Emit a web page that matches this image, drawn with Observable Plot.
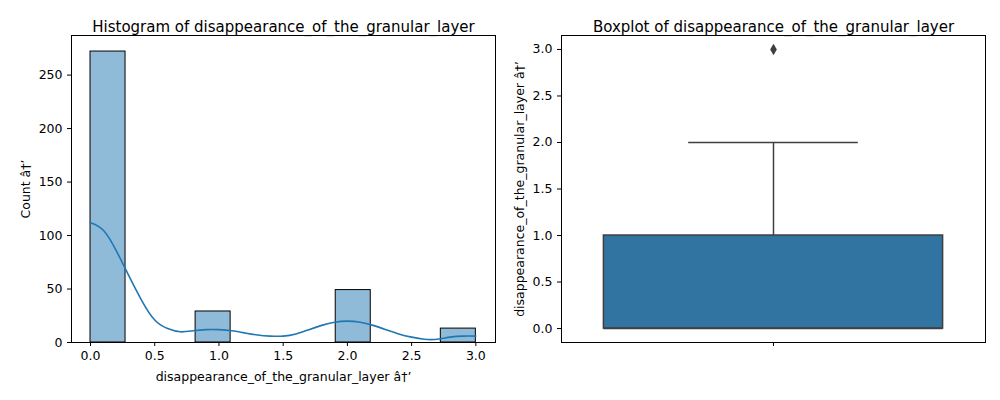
<!DOCTYPE html>
<html><head>
<script src="https://cdn.jsdelivr.net/npm/d3@7"></script>
<script src="https://cdn.jsdelivr.net/npm/@observablehq/plot@0.6"></script>
<style>body{margin:0;background:#fff}#wrap{display:flex;width:1000px}</style>
</head><body><div id="wrap"></div>
<script>
const varName = 'disappearance_of_the_granular_layer'
const binEdges = [0, 0.2727, 0.5455, 0.8182, 1.0909, 1.3636, 1.6364, 1.9091, 2.1818, 2.4545, 2.7273, 3.0]
const counts = [272, 0, 0, 29, 0, 0, 0, 49, 0, 0, 13]
const kdeX = [0,0.1,0.2,0.3,0.4,0.5,0.6,0.7,0.8,0.9,1.0,1.1,1.2,1.3,1.4,1.5,1.6,1.7,1.8,1.9,2.0,2.1,2.2,2.3,2.4,2.5,2.6,2.7,2.8,2.9,3.0]
const kdeY = [112,105,86,62,39,21,13,10,11,12,12,11,9,7,6,6,8,12,16,19,20,19,16,12,8,5,3,3,5,6,6]
const boxStats = {min: 0, q1: 0, median: 0, q3: 1, max: 2}
const outliers = [3]

const bins = counts.map((c, i) => ({x1: binEdges[i], x2: binEdges[i+1], y: c})).filter(d => d.y > 0)
const kde = kdeX.map((x, i) => ({x, y: kdeY[i]}))
const style = {fontFamily: 'DejaVu Sans', fontSize: '12.5px', color: 'black', background: 'white'}

let hist = Plot.plot({
  width: 500, height: 400,
  marginLeft: 71, marginRight: 5, marginTop: 35, marginBottom: 58,
  style,
  x: {domain: [-0.148, 3.153], ticks: [0,0.5,1,1.5,2,2.5,3], tickFormat: d3.format('.1f'), label: varName, labelAnchor: 'center', labelOffset: 38, tickSize: 4},
  y: {domain: [0, 287], ticks: [0,50,100,150,200,250], label: 'Count', labelAnchor: 'center', labelOffset: 50, tickSize: 4},
  marks: [
    Plot.rectY(bins, {x1: 'x1', x2: 'x2', y: 'y', fill: '#8fbbd9', stroke: 'black', strokeWidth: 1}),
    Plot.line(kde, {x: 'x', y: 'y', stroke: '#1f77b4', strokeWidth: 1.6, curve: 'natural'}),
    Plot.frame({stroke: 'black'}),
    Plot.text(['Histogram of ' + varName], {frameAnchor: 'top', dy: -14, fontSize: 15, text: d => d})
  ]
})

let box = Plot.plot({
  width: 500, height: 400,
  marginLeft: 61, marginRight: 15, marginTop: 35, marginBottom: 58,
  style,
  x: {domain: [-0.5, 0.5], ticks: [0], tickFormat: () => '', label: null, tickSize: 4},
  y: {domain: [-0.15, 3.15], ticks: [0,0.5,1,1.5,2,2.5,3], tickFormat: d3.format('.1f'), label: varName, labelAnchor: 'center', labelOffset: 46, tickSize: 4},
  marks: [
    Plot.ruleX([boxStats], {x: 0, y1: 'q3', y2: 'max', stroke: '#3f3f3f', strokeWidth: 1.5}),
    Plot.ruleY([boxStats], {y: 'max', x1: -0.2, x2: 0.2, stroke: '#3f3f3f', strokeWidth: 1.5}),
    Plot.rect([boxStats], {x1: -0.4, x2: 0.4, y1: 'q1', y2: 'q3', fill: '#3274a1', stroke: '#3f3f3f', strokeWidth: 1.5}),
    Plot.ruleY([boxStats], {y: 'median', x1: -0.4, x2: 0.4, stroke: '#3f3f3f', strokeWidth: 1.5}),
    Plot.dot(outliers, {x: 0, y: d => d, r: 3.5, fill: '#3f3f3f', symbol: 'diamond'}),
    Plot.frame({stroke: 'black'}),
    Plot.text(['Boxplot of ' + varName], {frameAnchor: 'top', dy: -14, fontSize: 15, text: d => d})
  ]
})

d3.select('#wrap').append(() => hist)
d3.select('#wrap').append(() => box)
</script></body></html>
